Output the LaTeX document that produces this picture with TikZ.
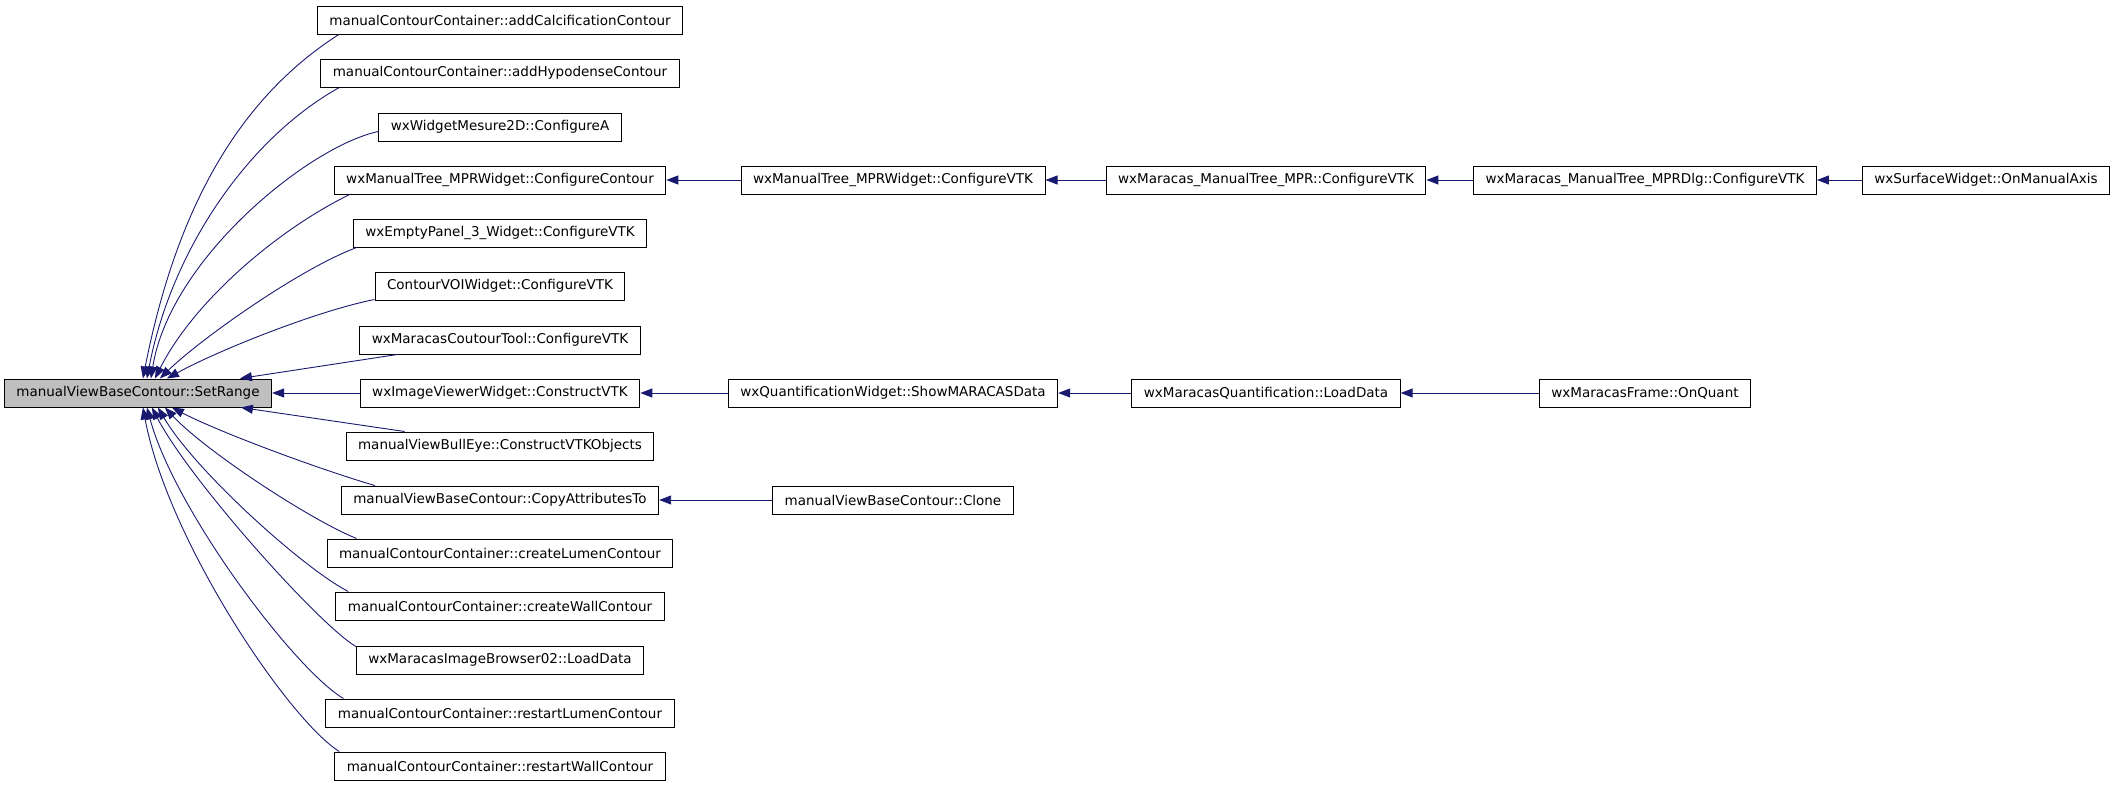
\documentclass[tikz,border=0pt]{standalone}
\usepackage{fontspec}
\setmainfont{DejaVu Sans}
\usetikzlibrary{arrows.meta}
\definecolor{edgeblue}{HTML}{191970}
\tikzset{
    func/.style={draw=black, line width=1pt, inner xsep=12pt, inner ysep=0pt,
        minimum height=28pt, font=\fontsize{13.5}{16}\selectfont},
    current/.style={func, fill=black!25},
    call/.style={draw=edgeblue, line width=0.9pt, -{Triangle[length=12pt,width=9pt]}}
}
\begin{document}
\begin{tikzpicture}[x=1pt, y=-1pt]
    \useasboundingbox (0,0) rectangle (2112,787);

    \node [current] (setrange) at (138,393) {manualViewBaseContour::SetRange};   % the function itself

    % direct callers
    \node [func] (calc)    at (500,20)  {manualContourContainer::addCalcificationContour};
    \node [func] (hypo)    at (500,73)  {manualContourContainer::addHypodenseContour};
    \node [func] (mesure)  at (500,127) {wxWidgetMesure2D::ConfigureA};
    \node [func] (contour) at (500,180) {wxManualTree\_MPRWidget::ConfigureContour};
    \node [func] (empty)   at (500,233) {wxEmptyPanel\_3\_Widget::ConfigureVTK};
    \node [func] (voi)     at (500,286) {ContourVOIWidget::ConfigureVTK};
    \node [func] (tool)    at (500,340) {wxMaracasCoutourTool::ConfigureVTK};
    \node [func] (viewer)  at (500,393) {wxImageViewerWidget::ConstructVTK};
    \node [func] (bulleye) at (500,446) {manualViewBullEye::ConstructVTKObjects};
    \node [func] (copyto)  at (500,500) {manualViewBaseContour::CopyAttributesTo};
    \node [func] (lumen)   at (500,553) {manualContourContainer::createLumenContour};
    \node [func] (wall)    at (500,606) {manualContourContainer::createWallContour};
    \node [func] (browser) at (500,660) {wxMaracasImageBrowser02::LoadData};
    \node [func] (rlumen)  at (500,713) {manualContourContainer::restartLumenContour};
    \node [func] (rwall)   at (500,766) {manualContourContainer::restartWallContour};

    % callers further up
    \node [func] (mprwidget) at (893,180)  {wxManualTree\_MPRWidget::ConfigureVTK};
    \node [func] (mpr)       at (1266,180) {wxMaracas\_ManualTree\_MPR::ConfigureVTK};
    \node [func] (mprdlg)    at (1645,180) {wxMaracas\_ManualTree\_MPRDlg::ConfigureVTK};
    \node [func] (surface)   at (1986,180) {wxSurfaceWidget::OnManualAxis};
    \node [func] (showdata)  at (893,393)  {wxQuantificationWidget::ShowMARACASData};
    \node [func] (quantload) at (1266,393) {wxMaracasQuantification::LoadData};
    \node [func] (onquant)   at (1645,393) {wxMaracasFrame::OnQuant};
    \node [func] (clone)     at (893,500)  {manualViewBaseContour::Clone};

    % curved calls coming down onto the top of SetRange
    \draw [call] ([xshift=22pt]calc.south west) .. controls +(-105,67) and +(32,-162) .. ([xshift=139pt]setrange.north west);
    \draw [call] ([xshift=19pt]hypo.south west) .. controls +(-90,50) and +(25,-130) .. ([xshift=143pt]setrange.north west);
    \draw [call] ([yshift=10pt]mesure.south west) .. controls +(-70,15) and +(19,-119) .. ([xshift=147pt]setrange.north west);
    \draw [call] ([xshift=16pt]contour.south west) .. controls +(-70,34) and +(40,-79) .. ([xshift=151pt]setrange.north west);
    \draw [call] ([xshift=4pt]empty.south west) .. controls +(-57,21) and +(40,-39) .. ([xshift=156pt]setrange.north west);
    \draw [call] ([yshift=1pt]voi.south west) .. controls +(-56,11) and +(53,-29) .. ([xshift=163pt]setrange.north west);
    \draw [call] ([xshift=38pt]tool.south west) -- ([xshift=236pt]setrange.north west);

    \draw [call] (viewer) -- (setrange);            % straight call on the same row

    % curved calls going up onto the bottom of SetRange
    \draw [call] ([xshift=59pt]bulleye.north west) -- ([xshift=237pt]setrange.south west);
    \draw [call] ([xshift=34pt]copyto.north west) .. controls +(-55,-16) and +(48,25) .. ([xshift=168pt]setrange.south west);
    \draw [call] ([xshift=30pt]lumen.north west) .. controls +(-47,-19) and +(40,43) .. ([xshift=161pt]setrange.south west);
    \draw [call] ([xshift=13pt]wall.north west) .. controls +(-45,-23) and +(37,63) .. ([xshift=154pt]setrange.south west);
    \draw [call] ([yshift=-1pt]browser.north west) .. controls +(-37,-22) and +(38,73) .. ([xshift=148pt]setrange.south west);
    \draw [call] ([xshift=18pt]rlumen.north west) .. controls +(-49,-29) and +(28,103) .. ([xshift=143pt]setrange.south west);
    \draw [call] ([xshift=5pt]rwall.north west) .. controls +(-51,-32) and +(25,133) .. ([xshift=139pt]setrange.south west);

    % the chains to the right
    \draw [call] (mprwidget) -- (contour);
    \draw [call] (mpr) -- (mprwidget);
    \draw [call] (mprdlg) -- (mpr);
    \draw [call] (surface) -- (mprdlg);
    \draw [call] (showdata) -- (viewer);
    \draw [call] (quantload) -- (showdata);
    \draw [call] (onquant) -- (quantload);
    \draw [call] (clone) -- (copyto);
\end{tikzpicture}
\end{document}
